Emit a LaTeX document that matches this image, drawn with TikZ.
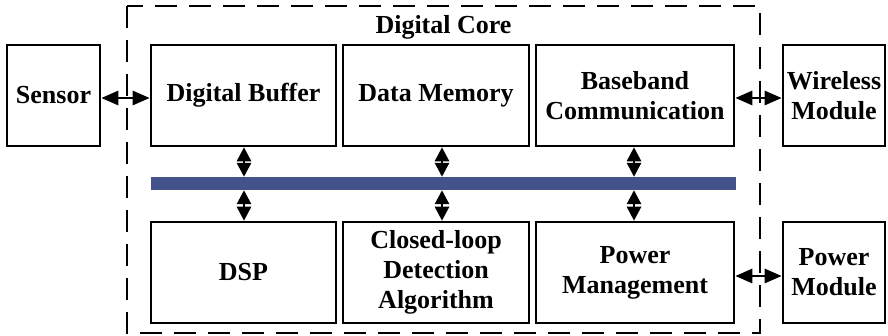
\documentclass[tikz,border=0pt]{standalone}
\usepackage{fontspec}
\setmainfont{Liberation Serif}
\usetikzlibrary{arrows.meta}
\definecolor{busblue}{RGB}{68,82,140}
\begin{document}
\begin{tikzpicture}[x=1pt,y=-1pt,
  blk/.style={draw,line width=2.6pt,rectangle,align=center,inner sep=1pt,
    font=\fontsize{26}{30}\selectfont\bfseries},
  arr/.style={line width=2.8pt,{Triangle[length=14pt,width=14pt]}-{Triangle[length=14pt,width=14pt]}},
  harr/.style={line width=2.8pt,{Triangle[length=17pt,width=14pt]}-{Triangle[length=17pt,width=14pt]}},
  core/.style={dashed,line width=2pt,dash pattern=on 22pt off 12pt}]
\useasboundingbox (0,0) rectangle (888,336);
\draw[core] (127,6) rectangle (760,333);
\node[font=\fontsize{26}{30}\selectfont\bfseries] (corelbl) at (443.5,27) {Digital Core};
% top row
\node[blk,minimum width=93pt,minimum height=101pt] (sensor) at (53.5,95.5) {Sensor};
\node[blk,minimum width=185pt,minimum height=101pt] (buf) at (243.5,95.5) {Digital Buffer};
\node[blk,minimum width=186pt,minimum height=101pt] (mem) at (436,95.5) {Data Memory};
\node[blk,minimum width=198pt,minimum height=101pt] (base) at (635,95.5) {Baseband\\Communication};
\node[blk,minimum width=102pt,minimum height=101pt] (wire) at (834,95.5) {Wireless\\Module};
% bottom row
\node[blk,minimum width=185pt,minimum height=101pt] (dsp) at (243.5,272.5) {DSP};
\node[blk,minimum width=186pt,minimum height=101pt] (cld) at (436,272.5) {Closed-loop\\Detection\\Algorithm};
\node[blk,minimum width=198pt,minimum height=101pt] (pm) at (635,272.5) {Power\\Management};
\node[blk,minimum width=102pt,minimum height=101pt] (pmod) at (834,272.5) {Power\\Module};
% bus
\node[fill=busblue,draw=none,minimum width=585pt,minimum height=13pt,inner sep=0pt] (bus) at (443.5,183.5) {};
% vertical arrows
\draw[arr] ([xshift=0.5pt]buf.south) -- ([xshift=0.5pt]buf.south |- bus.north);
\draw[arr] ([xshift=0.5pt]dsp.north) -- ([xshift=0.5pt]dsp.north |- bus.south);
\draw[arr] ([xshift=6pt]mem.south) -- ([xshift=6pt]mem.south |- bus.north);
\draw[arr] ([xshift=6pt]cld.north) -- ([xshift=6pt]cld.north |- bus.south);
\draw[arr] ([xshift=-1pt]base.south) -- ([xshift=-1pt]base.south |- bus.north);
\draw[arr] ([xshift=-1pt]pm.north) -- ([xshift=-1pt]pm.north |- bus.south);
% horizontal arrows
\draw[harr] ([yshift=-2.5pt]sensor.east) -- ([yshift=-2.5pt]buf.west);
\draw[harr] ([yshift=-2.5pt]base.east) -- ([yshift=-2.5pt]wire.west);
\draw[harr] ([yshift=-3.5pt]pm.east) -- ([yshift=-3.5pt]pmod.west);
\end{tikzpicture}
\end{document}
